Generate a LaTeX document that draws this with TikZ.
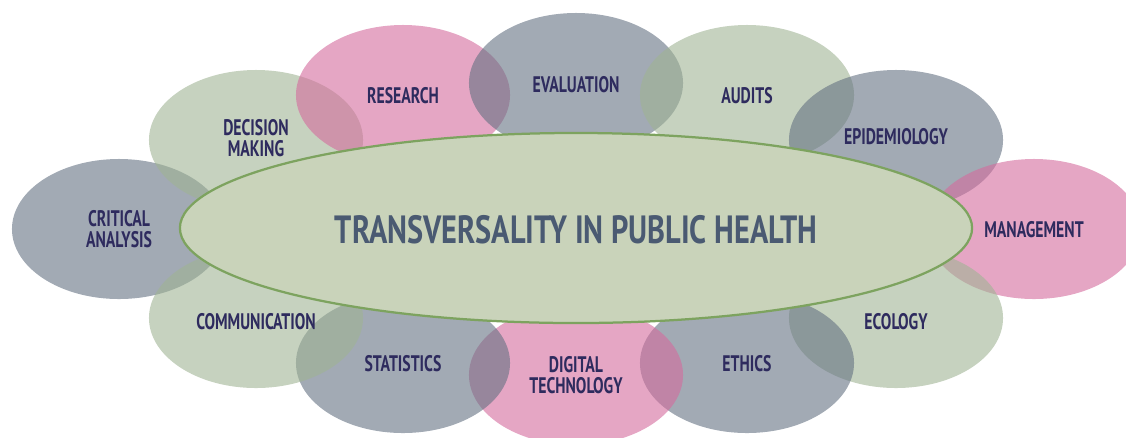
\documentclass[tikz,border=0pt]{standalone}
\usepackage{fontspec}
\setmainfont{PT Sans}
\newfontfamily\lblfont[FakeStretch=0.7]{PT Sans}
\newfontfamily\hubfont[FakeStretch=0.77]{PT Sans}
\usetikzlibrary{shapes.geometric}

\definecolor{blobgray}{HTML}{647182}
\definecolor{blobgreen}{HTML}{A0B494}
\definecolor{blobpink}{HTML}{D46B9D}
\definecolor{hubfill}{HTML}{C9D3BA}
\definecolor{hubline}{HTML}{7DA35F}
\definecolor{lbltext}{HTML}{2E2B5E}
\definecolor{hubtext}{HTML}{4A5A72}

\tikzset{
  blob/.style={ellipse, minimum width=5.35cm, minimum height=3.5cm, inner sep=0pt,
    fill=#1, fill opacity=0.6},
  blobtext/.style={font=\lblfont\bfseries\fontsize{16}{15}\selectfont, text=lbltext,
    align=center, inner sep=0pt},
  hub/.style={ellipse, draw=hubline, line width=1.6pt, fill=hubfill,
    minimum width=19.8cm, minimum height=4.75cm, inner sep=0pt},
}

% name / centre x / centre y / colour / text shift / text
\def\blobs{crit/119/229/blobgray/0/{CRITICAL\\ANALYSIS},
  deci/256/140/blobgreen/-2/{DECISION\\MAKING},
  rese/403/95/blobpink/1/{RESEARCH},
  eval/576/83/blobgray/2/{EVALUATION},
  audi/747/95/blobgreen/1/{AUDITS},
  epid/896/140/blobgray/-3/{EPIDEMIOLOGY},
  mana/1034/229/blobpink/1/{MANAGEMENT},
  ecol/896/318/blobgreen/4/{ECOLOGY},
  ethi/747/363/blobgray/1/{ETHICS},
  digi/576/375/blobpink/0/{DIGITAL\\TECHNOLOGY},
  stat/403/363/blobgray/1/{STATISTICS},
  comm/256/318/blobgreen/4/{COMMUNICATION}}

\begin{document}
\begin{tikzpicture}[x=0.025cm, y=-0.025cm]
  \useasboundingbox (0,0) rectangle (1126,437);

  \foreach \nm/\cx/\cy/\col/\dy/\txt in \blobs
    \node[blob=\col] (\nm) at (\cx,\cy) {};

  \node[hub] (hub) at (576,228) {};
  \node[font=\hubfont\bfseries\fontsize{28}{29}\selectfont, text=hubtext] (title) at (576,230)
    {TRANSVERSALITY IN PUBLIC HEALTH};

  \foreach \nm/\cx/\cy/\col/\dy/\txt in \blobs
    \node[blobtext] (\nm-t) at ([yshift=-\dy*0.025cm]\nm.center) {\txt};
\end{tikzpicture}
\end{document}
